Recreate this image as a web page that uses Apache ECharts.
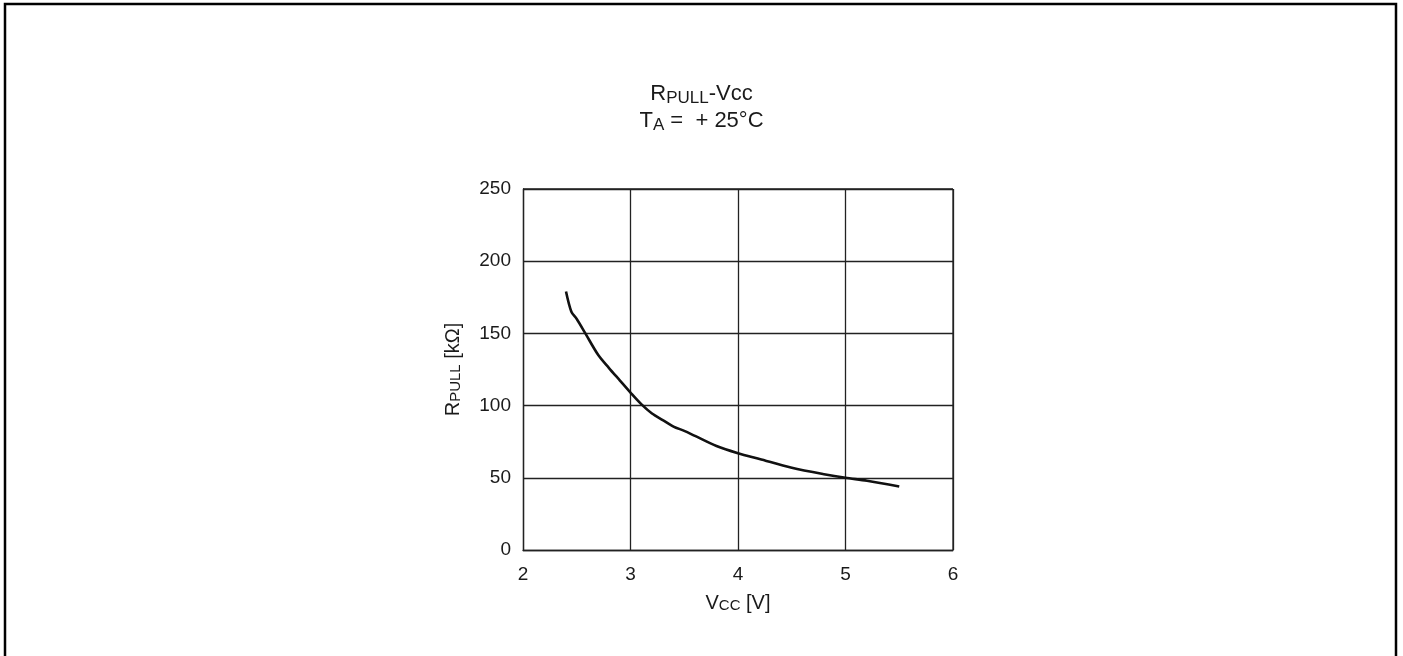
<!DOCTYPE html>
<html>
<head>
<meta charset="utf-8">
<script src="https://cdn.jsdelivr.net/npm/echarts@6/dist/echarts.min.js"></script>
<style>
html,body{margin:0;padding:0;background:#fff;}
#c{width:1403px;height:656px;}
</style>
</head>
<body>
<div id="c"></div>
<script>
var vcc   = [2.40, 2.45, 2.50, 2.58, 2.70, 2.80, 2.90, 3.00, 3.10, 3.20, 3.30, 3.40, 3.50, 3.60, 3.80, 4.00, 4.20, 4.50, 4.80, 5.00, 5.20, 5.50];
var rpull = [179, 165, 160, 150, 135, 126, 117.5, 109, 101, 94.5, 90, 85.5, 82.5, 79, 72, 67, 63, 57, 52.5, 50, 48, 44];
var xTicks = [2, 3, 4, 5, 6];
var yTicks = [0, 50, 100, 150, 200, 250];

var pts = vcc.map(function (v, i) { return [v, rpull[i]]; });
var font = 'Liberation Sans, Arial, sans-serif';
var txt = '#1a1a1a';
var chart = echarts.init(document.getElementById('c'));
chart.setOption({
  animation: false,
  backgroundColor: '#fff',
  title: {
    left: 'center',
    top: 75,
    text: '{a|R}{b|PULL}{a|-Vcc}\n{a|T}{b|A}{a| =  + 25°C}',
    textStyle: {
      fontFamily: font, fontWeight: 'normal',
      rich: {
        a: { fontSize: 22, lineHeight: 27, color: txt, fontFamily: font, fontWeight: 'normal' },
        b: { fontSize: 17, lineHeight: 16, verticalAlign: 'bottom', color: txt, fontFamily: font, fontWeight: 'normal' }
      }
    }
  },
  grid: { left: 523, right: 450, top: 189, bottom: 106, containLabel: false },
  xAxis: {
    type: 'value', min: 2, max: 6, interval: 1,
    name: '{a|V}{b|CC}{a| [V]}', nameLocation: 'middle', nameGap: 41,
    nameTextStyle: {
      fontFamily: font,
      rich: {
        a: { fontSize: 20, color: txt, fontFamily: font, lineHeight: 22, verticalAlign: 'bottom' },
        b: { fontSize: 15, color: txt, fontFamily: font, lineHeight: 17, verticalAlign: 'bottom' }
      }
    },
    axisLine: { show: true, lineStyle: { color: '#222', width: 1.3 } },
    axisTick: { show: false },
    splitLine: { show: true, lineStyle: { color: '#222', width: 1.3 } },
    axisLabel: { fontSize: 19, color: txt, fontFamily: font, margin: 15 }
  },
  yAxis: {
    type: 'value', min: 0, max: 250, interval: 50,
    name: '{a|R}{b|PULL}{a| [kΩ]}', nameLocation: 'middle', nameGap: 54, nameRotate: 90,
    nameTextStyle: {
      fontFamily: font,
      padding: [0, 0, 6, 0],
      rich: {
        a: { fontSize: 20, color: txt, fontFamily: font, lineHeight: 22, verticalAlign: 'bottom' },
        b: { fontSize: 15, color: txt, fontFamily: font, lineHeight: 17, verticalAlign: 'bottom' }
      }
    },
    axisLine: { show: true, lineStyle: { color: '#222', width: 1.3 } },
    axisTick: { show: false },
    splitLine: { show: true, lineStyle: { color: '#222', width: 1.3 } },
    axisLabel: { fontSize: 19, color: txt, fontFamily: font, margin: 12 }
  },
  graphic: [{
    type: 'polyline',
    shape: { points: [[5, 700], [5, 4], [1396, 4], [1396, 700]] },
    style: { stroke: '#000', lineWidth: 2.5, fill: null }
  }, {
    type: 'line',
    shape: { x1: 953, y1: 189, x2: 953, y2: 550 },
    style: { stroke: '#222', lineWidth: 1.3 }
  }, {
    type: 'line',
    shape: { x1: 523, y1: 189, x2: 953, y2: 189 },
    style: { stroke: '#222', lineWidth: 1.3 }
  }],
  series: [{
    type: 'line',
    data: pts,
    smooth: 0.3,
    symbol: 'none',
    lineStyle: { color: '#111', width: 2.6 }
  }]
});
</script>
</body>
</html>
